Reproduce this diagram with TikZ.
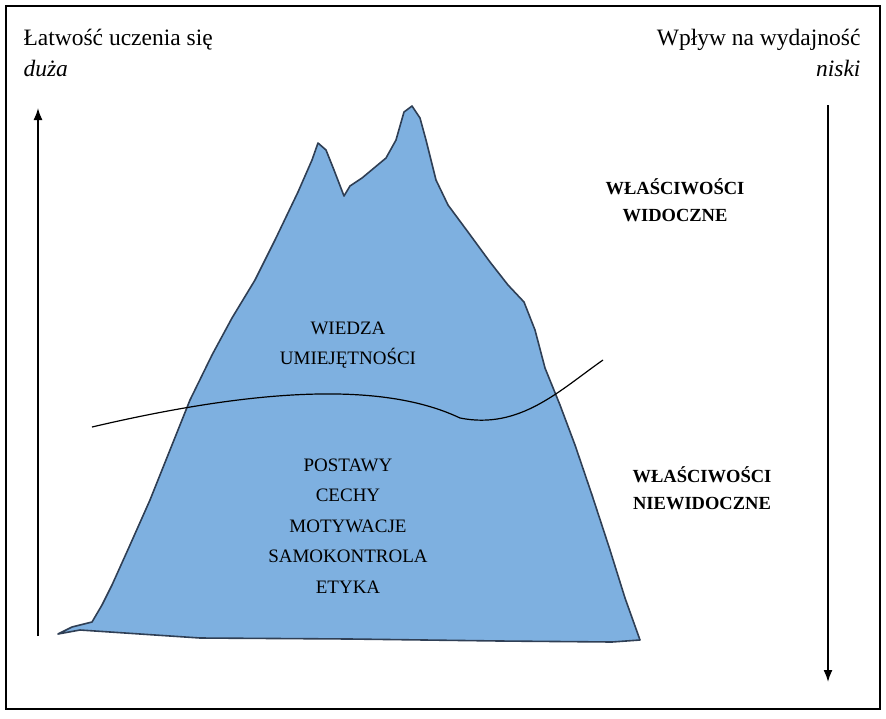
\documentclass[tikz,border=0pt]{standalone}
\usepackage{fontspec}
\setmainfont{Liberation Serif}
\usetikzlibrary{arrows.meta}
\definecolor{icefill}{HTML}{7EB0E0}
\definecolor{iceline}{HTML}{2F3F55}
\tikzset{
  label text/.style={font=\fontsize{23.5}{26}\selectfont},
  ice text/.style={font=\fontsize{19}{30.5}\selectfont,align=center},
  side text/.style={font=\bfseries\fontsize{18.5}{27}\selectfont,align=center},
}
\begin{document}
\begin{tikzpicture}[x=1pt,y=-1pt]
			\useasboundingbox (0,0) rectangle (886,718);
			\draw[line width=2.5pt] (6,6) rectangle (880,709);
			% iceberg
			\draw[fill=icefill,draw=iceline,line width=1.6pt,line join=round]
				(58,634) -- (72,627) -- (92,622) -- (102,605) -- (112,585) -- (130,545)
				-- (150,500) -- (170,450) -- (190,400) -- (212,355) -- (232,318)
				-- (255,280) -- (275,240) -- (298,192) -- (312,160) -- (318,143)
				-- (326,150) -- (334,170) -- (344,196) -- (350,186) -- (362,178)
				-- (374,168) -- (386,158) -- (396,140) -- (404,112) -- (412,106)
				-- (420,118) -- (426,140) -- (436,180) -- (448,205) -- (468,232)
				-- (490,262) -- (508,285) -- (524,302) -- (535,330) -- (545,368)
				-- (560,405) -- (575,445) -- (592,495) -- (610,550) -- (625,598)
				-- (640,640) -- (612,642) -- (500,641) -- (350,639) -- (200,638)
				-- (110,632) -- (80,630) -- cycle;
			% waterline
			\draw[line width=1.2pt] (92,427) .. controls (250,390) and (380,380) .. (460,418)
				.. controls (520,430) and (560,390) .. (603,360);
			% axes
			\coordinate (lb) at (38,636);
			\coordinate (lt) at (38,108);
			\coordinate (rt) at (828,105);
			\coordinate (rb) at (828,682);
			\draw[line width=1.6pt,-{Latex[length=12pt,width=9pt]}] (lb) -- (lt);
			\draw[line width=1.6pt,-{Latex[length=12pt,width=9pt]}] (rt) -- (rb);
			% texts
			\node[label text,anchor=west] (ease) at (20,40) {Łatwość uczenia się};
			\node[label text,anchor=west] (big) at (20,68) {\itshape duża};
			\node[label text,anchor=east] (impact) at (864,40) {Wpływ na wydajność};
			\node[label text,anchor=east] (low) at (864,68) {\itshape niski};
			\node[side text] (visible) at (675,200) {WŁAŚCIWOŚCI\\WIDOCZNE};
			\node[side text] (hidden) at (702,488) {WŁAŚCIWOŚCI\\NIEWIDOCZNE};
			\node[ice text] (top) at (348,345) {WIEDZA\\UMIEJĘTNOŚCI};
			\node[ice text] (bottom) at (348,526) {POSTAWY\\CECHY\\MOTYWACJE\\SAMOKONTROLA\\ETYKA};
		\end{tikzpicture}
\end{document}
